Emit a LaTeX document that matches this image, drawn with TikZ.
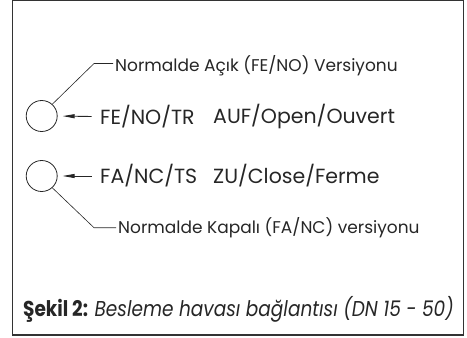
\documentclass[tikz,border=0pt]{standalone}
\usepackage{fontspec}
\usepackage{graphicx}
\setmainfont{Poppins}
\usetikzlibrary{arrows.meta}
\tikzset{
  lbl/.style={anchor=west, inner sep=0pt, text=black!85, font=\fontsize{17}{20}\selectfont},
  big/.style={anchor=west, inner sep=0pt, text=black!85, font=\fontsize{20.5}{24}\selectfont},
  port/.style={circle, draw=black!85, line width=0.8pt, minimum size=31pt, inner sep=0pt},
  leader/.style={draw=black!85, line width=0.6pt},
  feed/.style={draw=black!85, line width=0.9pt, -{Triangle[length=12pt,width=4pt]}, shorten >=5pt}
}
\begin{document}
\begin{tikzpicture}[x=1pt,y=-1pt]
\useasboundingbox (0,0) rectangle (467,338);
\draw[line width=1.3pt, draw=black!80] (12.5,0.8) rectangle (463.5,335);
\node[port] (c1) at (41.7,116) {};
\node[port] (c2) at (41.7,176) {};
\node[lbl] (t1) at (115,66) {Normalde Açık (FE/NO) Versiyonu};
\node[lbl] (t2) at (118,228) {Normalde Kapalı (FA/NC) versiyonu};
\coordinate (k1) at (94,63.5);
\coordinate (k2) at (94,227.7);
\draw[leader] (c1.48) -- (k1) -- ([xshift=-2pt]k1 -| t1.west);
\draw[leader] (c2.-48) -- (k2) -- ([xshift=-2pt]k2 -| t2.west);
\node[big] (o1) at (100,117) {FE/NO/TR};
\node[big] (o2) at (213,117) {AUF/Open/Ouvert};
\node[big] (s1) at (100,176) {FA/NC/TS};
\node[big] (s2) at (213,176) {ZU/Close/Ferme};
\coordinate (a1) at (91.7,116.5);
\coordinate (a2) at (91.7,176);
\draw[feed] (a1) -- (c1.east);
\draw[feed] (a2) -- (c2.east);
\node[anchor=west, inner sep=0pt, text=black!85, font=\fontsize{21.5}{24}\selectfont] (cap) at (23,309) {\scalebox{0.86}[1]{\textbf{Şekil 2:} \textit{Besleme havası bağlantısı (DN 15 - 50)}}};
\end{tikzpicture}
\end{document}
